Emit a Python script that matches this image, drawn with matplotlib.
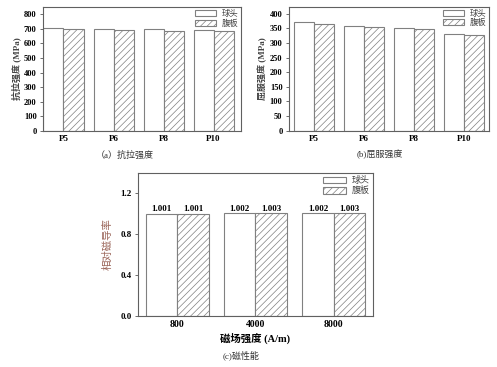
import numpy as np
import matplotlib
matplotlib.use('Agg')
import matplotlib.pyplot as plt

plt.rcParams['font.family'] = ['Liberation Serif', 'Noto Sans CJK SC']
plt.rcParams['hatch.linewidth'] = 0.5
plt.rcParams['hatch.color'] = '#808080'

# data
groups_ab = ['P5', 'P6', 'P8', 'P10']
tensile_ball = [705, 700, 698, 692]
tensile_web = [698, 693, 688, 688]
yield_ball = [372, 360, 351, 332]
yield_web = [366, 354, 347, 329]

groups_c = ['800', '4000', '8000']
perm_ball = [1.001, 1.002, 1.002]
perm_web = [1.001, 1.003, 1.003]

names = ['球头', '腹板']
ec = '#808080'
w = 0.4

fig = plt.figure(figsize=(4.97, 3.67), dpi=100)


def draw(ax, cats, v1, v2, ylim, yticks, fs):
    x = np.arange(len(cats))
    b1 = ax.bar(x - w/2, v1, w, color='white', edgecolor=ec, lw=0.8, label=names[0])
    b2 = ax.bar(x + w/2, v2, w, color='white', edgecolor=ec, lw=0.8, hatch='/////', label=names[1])
    ax.set_ylim(*ylim)
    ax.set_yticks(yticks)
    ax.set_xticks(x)
    ax.set_xticklabels(cats, fontweight='bold', fontsize=fs + 0.5)
    ax.tick_params(axis='x', length=0, pad=3)
    ax.tick_params(axis='y', length=2.5, width=0.6, labelsize=fs, pad=2, color='#555555')
    for t in ax.get_yticklabels():
        t.set_fontweight('bold')
    for s in ax.spines.values():
        s.set_color('#606060')
        s.set_linewidth(0.8)
    leg = ax.legend(loc='upper right', frameon=False, fontsize=fs, handlelength=2.6,
                    handleheight=0.75, borderaxespad=0.15, borderpad=0.2,
                    labelspacing=0.15, handletextpad=0.6)
    for t in leg.get_texts():
        t.set_color('#444444')
    return b1, b2


ax1 = fig.add_axes([0.0865, 0.643, 0.3985, 0.338])
draw(ax1, groups_ab, tensile_ball, tensile_web, (0, 850), range(0, 801, 100), 6)
ax1.set_xlim(-0.41, 3.55)
ax1.set_ylabel('抗拉强度 (MPa)', fontsize=6.5, fontweight='bold', color='#444444', labelpad=2)

ax2 = fig.add_axes([0.581, 0.644, 0.403, 0.338])
draw(ax2, groups_ab, yield_ball, yield_web, (0, 425), range(0, 401, 50), 6)
ax2.set_xlim(-0.5, 3.5)
ax2.set_ylabel('屈服强度 (MPa)', fontsize=6.5, fontweight='bold', color='#444444', labelpad=2)

ax3 = fig.add_axes([0.278, 0.140, 0.472, 0.389])
b1, b2 = draw(ax3, groups_c, perm_ball, perm_web, (0, 1.4), [0.0, 0.4, 0.8, 1.2], 6.5)
ax3.set_xlim(-0.5, 2.5)
ax3.yaxis.set_major_formatter(matplotlib.ticker.FormatStrFormatter('%.1f'))
for bars, vals in ((b1, perm_ball), (b2, perm_web)):
    ax3.bar_label(bars, labels=[f'{v:.3f}' for v in vals], fontsize=6.5,
                  fontweight='bold', padding=0.5)
ax3.set_ylabel('相对磁导率', fontsize=7.5, color='#9a6458', labelpad=6)
ax3.set_xlabel('磁场强度 (A/m)', fontsize=7.5, fontweight='bold', labelpad=3)

fig.text(0.252, 0.578, '（a）抗拉强度', fontsize=6.5, ha='center', va='center', color='#333333')
fig.text(0.765, 0.578, '(b)屈服强度', fontsize=6.5, ha='center', va='center', color='#333333')
fig.text(0.486, 0.033, '(c)磁性能', fontsize=6.5, ha='center', va='center', color='#333333')

fig.savefig('out.png', dpi=100)
